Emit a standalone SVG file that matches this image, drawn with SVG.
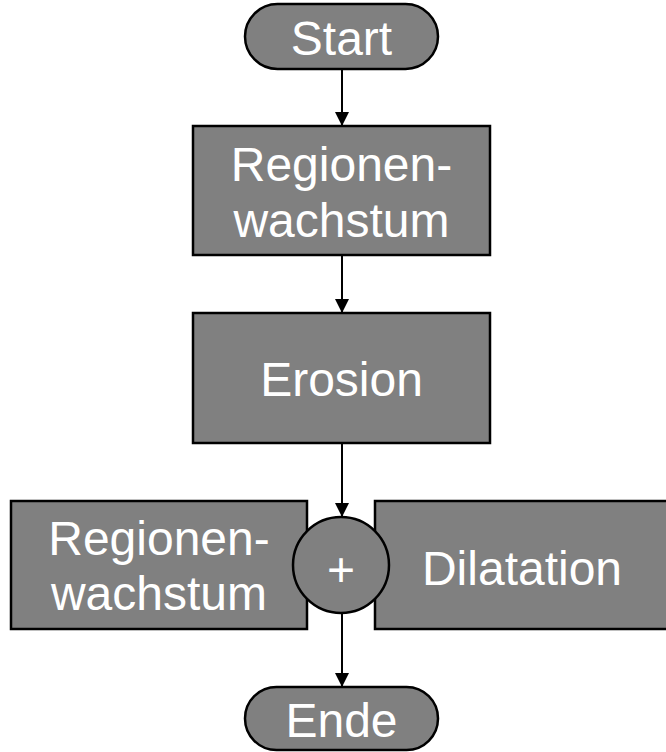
<svg xmlns="http://www.w3.org/2000/svg" width="666" height="752" viewBox="0 0 666 752">
<style>
.n{fill:#808080;stroke:#000;stroke-width:2.5}
.t{font-family:"Liberation Sans",Arial,sans-serif;font-size:48px;fill:#fff;text-anchor:middle}
.c{stroke:#000;stroke-width:2;fill:none}
</style>
<defs>
<marker id="a" viewBox="0 0 14 15" refX="14" refY="7" markerWidth="14" markerHeight="15" markerUnits="userSpaceOnUse" orient="auto">
<path d="M0,0 L14,7 L0,14 Z" fill="#000"/>
</marker>
</defs>
<g id="connectors">
<line class="c" x1="342" y1="69" x2="342" y2="126" marker-end="url(#a)"/>
<line class="c" x1="342" y1="255" x2="342" y2="313" marker-end="url(#a)"/>
<line class="c" x1="342" y1="443" x2="342" y2="517" marker-end="url(#a)"/>
<line class="c" x1="342" y1="613" x2="342" y2="687" marker-end="url(#a)"/>
</g>
<g id="start">
<rect class="n" x="245" y="4" width="193" height="65" rx="32.5"/>
<text class="t" x="341.5" y="55">Start</text>
</g>
<g id="regionenwachstum1">
<rect class="n" x="193" y="126" width="297" height="129"/>
<text class="t" x="341.5" y="181">Regionen-</text>
<text class="t" x="341.5" y="237">wachstum</text>
</g>
<g id="erosion">
<rect class="n" x="193" y="313" width="297" height="130"/>
<text class="t" x="341.5" y="396">Erosion</text>
</g>
<g id="regionenwachstum2">
<rect class="n" x="11" y="501" width="296" height="128"/>
<text class="t" x="159" y="555">Regionen-</text>
<text class="t" x="159" y="610">wachstum</text>
</g>
<g id="dilatation">
<rect class="n" x="375" y="501" width="300" height="128"/>
<text class="t" x="522" y="585">Dilatation</text>
</g>
<g id="plus">
<circle class="n" cx="341" cy="565" r="48"/>
<text class="t" x="341" y="586">+</text>
</g>
<g id="ende">
<rect class="n" x="245" y="687" width="193" height="63" rx="31.5"/>
<text class="t" x="341.5" y="737">Ende</text>
</g>
</svg>
